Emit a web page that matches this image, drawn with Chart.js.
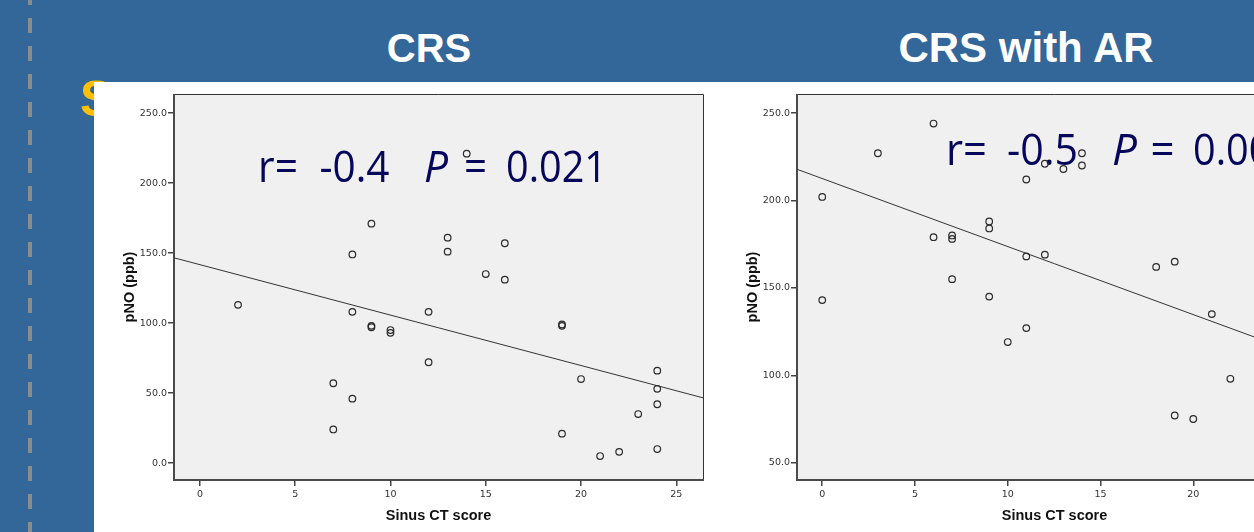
<!DOCTYPE html>
<html>
<head>
<meta charset="utf-8">
<script src="https://cdn.jsdelivr.net/npm/chart.js@4.4.1/dist/chart.umd.min.js"></script>
<style>
  html, body { margin: 0; padding: 0; }
  body {
    width: 1254px; height: 532px; overflow: hidden; position: relative;
    background: #336699;
    font-family: "Liberation Sans", Arial, sans-serif;
  }
  .dash {
    position: absolute; left: 28px; top: 0; width: 4px; height: 532px;
    background: repeating-linear-gradient(to bottom, #8c8c8c 0 15px, transparent 15px 28px);
    background-position: 0 18px;
  }
  .behind {
    position: absolute; left: 80px; top: 74px; color: #ffc000;
    font: bold 50px "Liberation Sans", Arial, sans-serif; line-height: 50px;
  }
  .title {
    position: absolute; color: #fff; font-weight: bold; white-space: nowrap;
    transform: translateX(-50%);
  }
  .panel { position: absolute; left: 94px; top: 82px; width: 1160px; height: 450px; background: #fff; }
  canvas { position: absolute; }
</style>
</head>
<body>
<div class="dash"></div>
<div class="behind">S</div>
<div class="title" style="left:429px; top:28px; font-size:40px; line-height:40px;">CRS</div>
<div class="title" style="left:1026px; top:26.5px; font-size:42px; line-height:42px;">CRS with AR</div>
<div class="panel"></div>
<canvas id="crs" width="626" height="450" style="left:94px; top:82px;"></canvas>
<canvas id="crsAr" width="612" height="450" style="left:717px; top:82px;"></canvas>
<script>
// 数据：CRS
const crsCT = [2, 7, 7, 8, 8, 8, 9, 9, 9, 10, 10, 12, 12, 13, 13, 14, 15, 16, 16, 19, 19, 19, 20, 21, 22, 23, 24, 24, 24, 24];
const crsNO = [113, 57, 24, 149, 108, 46, 171, 98, 97, 95, 93, 108, 72, 161, 151, 221, 135, 157, 131, 99, 98, 21, 60, 5, 8, 35, 66, 53, 42, 10];
const crsFitX = [-1.36, 26.4];
const crsFitY = [146.6, 46.6];

// 数据：CRS with AR
const arCT = [0, 0, 3, 6, 6, 7, 7, 7, 9, 9, 9, 10, 11, 11, 11, 12, 12, 13, 14, 14, 18, 19, 19, 20, 21, 22];
const arNO = [202, 143, 227, 244, 179, 180, 178, 155, 188, 184, 145, 119, 212, 168, 127, 221, 169, 218, 227, 220, 162, 165, 77, 75, 135, 98];
const arFitX = [-1.35, 26.4];
const arFitY = [217.8, 109.8];

// 刻度
const xTicks = [0, 5, 10, 15, 20, 25];
const crsYTicks = [0, 50, 100, 150, 200, 250];
const arYTicks = [50, 100, 150, 200, 250];

// 统计文字
const crsStat = ['r=', '-0.4', 'P', '=', '0.021'];
const arStat = ['r=', '-0.5', 'P', '=', '0.005'];

function pairs(xs, ys) {
    return xs.map((x, i) => ({ x: x, y: ys[i] }));
}

// 绘图区背景与边框
const framePlugin = {
    id: 'frame',
    beforeDatasetsDraw(chart, args, opts) {
        const a = chart.chartArea;
        const ctx = chart.ctx;
        ctx.save();
        ctx.fillStyle = '#f0f0f0';
        ctx.fillRect(a.left, a.top, a.right - a.left, a.bottom - a.top);

        // 统计文字画在点的下面
        ctx.fillStyle = '#06065a';
        ctx.textBaseline = 'alphabetic';
        opts.pieces.forEach((p, i) => {
            ctx.font = (p.italic ? 'italic ' : '') + '44px "Open Sans", "Noto Sans", sans-serif';
            ctx.fillText(opts.text[i], a.left + p.dx, a.top + opts.baseline, p.w);
        });

        ctx.strokeStyle = '#333';
        ctx.lineWidth = 1;
        ctx.beginPath();
        ctx.moveTo(a.left, a.top + 0.5);
        ctx.lineTo(a.right + 0.5, a.top + 0.5);
        ctx.lineTo(a.right + 0.5, a.bottom);
        ctx.stroke();
        ctx.strokeStyle = '#4a4a4a';
        ctx.lineWidth = 2;
        ctx.beginPath();
        ctx.moveTo(a.left, a.top);
        ctx.lineTo(a.left, a.bottom);
        ctx.lineTo(a.right + 1, a.bottom);
        ctx.stroke();
        ctx.restore();
    }
};

function makeChart(id, ct, no, fitX, fitY, yMin, yMax, yTicks, xMax, stat, pieces, baseline) {
    const tickFont = { family: '"DejaVu Sans", Verdana, sans-serif', size: 9.5 };
    const titleFont = { family: '"Liberation Sans", Arial, sans-serif', size: 14.5, weight: 'bold' };
    return new Chart(document.getElementById(id), {
        type: 'scatter',
        data: {
            datasets: [{
                data: pairs(ct, no),
                pointRadius: 3.3,
                pointBorderWidth: 1.2,
                pointBorderColor: '#2a2a2a',
                pointBackgroundColor: 'rgba(0,0,0,0)'
            }, {
                data: pairs(fitX, fitY),
                showLine: true,
                pointRadius: 0,
                borderColor: '#333',
                borderWidth: 1
            }]
        },
        options: {
            responsive: false,
            animation: false,
            devicePixelRatio: 1,
            layout: { padding: { left: 0, top: 12, right: 17, bottom: 0 } },
            plugins: {
                legend: { display: false },
                tooltip: { enabled: false },
                frame: { text: stat, pieces: pieces, baseline: baseline }
            },
            scales: {
                x: {
                    type: 'linear',
                    min: -1.36,
                    max: xMax,
                    afterBuildTicks: s => { s.ticks = xTicks.map(v => ({ value: v })); },
                    afterFit: s => { s.height = 52; },
                    grid: { drawOnChartArea: false, drawTicks: true, tickLength: 6, tickColor: '#444', lineWidth: 1.5 },
                    border: { display: false },
                    ticks: { autoSkip: false, maxRotation: 0, padding: 3, color: '#333', font: tickFont },
                    title: { display: true, text: 'Sinus CT score', color: '#111', font: titleFont, padding: { top: 0, bottom: 7.3 } }
                },
                y: {
                    type: 'linear',
                    min: yMin,
                    max: yMax,
                    afterBuildTicks: s => { s.ticks = yTicks.map(v => ({ value: v })); },
                    afterFit: s => { s.width = 80; },
                    grid: { drawOnChartArea: false, drawTicks: true, tickLength: 6, tickColor: '#444', lineWidth: 1.5 },
                    border: { display: false },
                    ticks: { autoSkip: false, padding: 1, color: '#333', font: tickFont, callback: v => v.toFixed(1) },
                    title: { display: true, text: 'pNO (ppb)', color: '#111', font: titleFont, padding: { top: 27.3, bottom: 0 } }
                }
            }
        },
        plugins: [framePlugin]
    });
}

makeChart('crs', crsCT, crsNO, crsFitX, crsFitY, -12.1, 263.6, crsYTicks, 26.4, crsStat, [
    { dx: 84, w: 40 },
    { dx: 145.5, w: 70 },
    { dx: 250, w: 24, italic: true },
    { dx: 290, w: 23 },
    { dx: 332, w: 101 }
], 87.5);

makeChart('crsAr', arCT, arNO, arFitX, arFitY, 40.1, 260.9, arYTicks, 26.4, arStat, [
    { dx: 149, w: 41 },
    { dx: 210, w: 71 },
    { dx: 315, w: 27, italic: true },
    { dx: 353.5, w: 24 },
    { dx: 396, w: 101 }
], 71);
</script>
</body>
</html>
